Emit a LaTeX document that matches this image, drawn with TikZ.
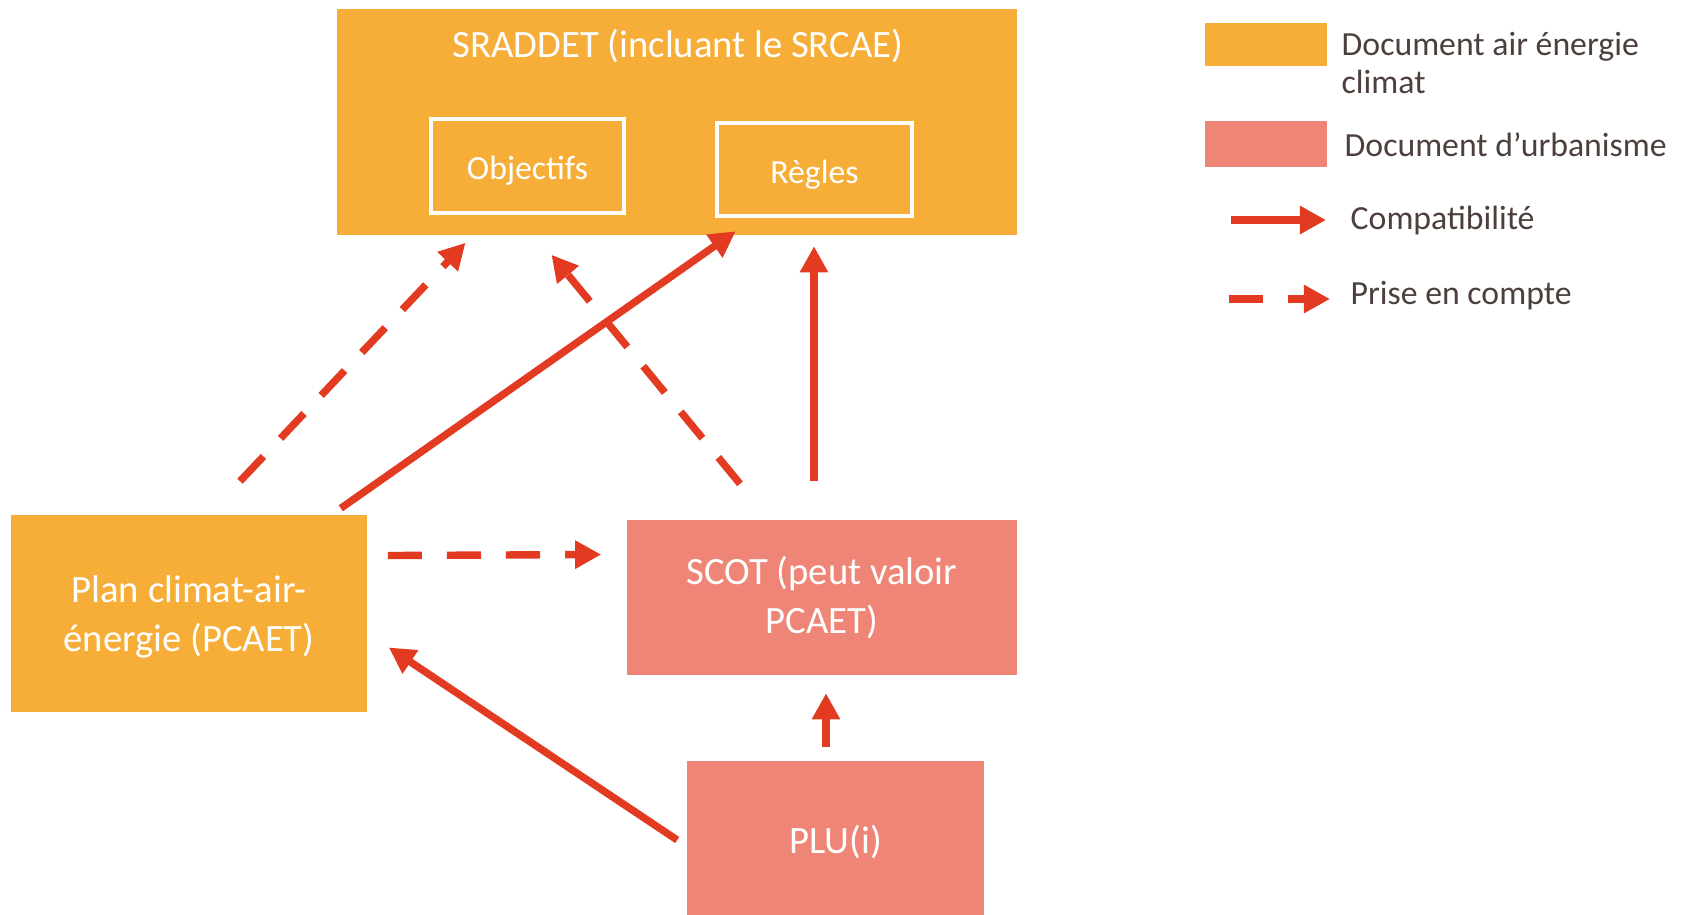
\documentclass[tikz,border=0pt]{standalone}
\usepackage{fontspec}
\setmainfont{Carlito}
\usetikzlibrary{arrows.meta}

\definecolor{airorange}{HTML}{F6AE38}
\definecolor{urbapink}{HTML}{EE8576}
\definecolor{linkred}{HTML}{E33B22}
\definecolor{legtext}{HTML}{4D403C}

\begin{document}
\begin{tikzpicture}[x=0.01cm,y=-0.01cm,
  docbox/.style={rectangle,inner sep=0pt,text=white,align=center,font=\fontsize{11}{13.8}\selectfont},
  air/.style={docbox,fill=airorange},
  urba/.style={docbox,fill=urbapink},
  subbox/.style={rectangle,draw=white,line width=1pt,inner sep=0pt,text=white,text height=7.8pt,text depth=0pt,font=\fontsize{9.6}{11}\selectfont},
  comp/.style={draw=linkred,line width=2.1pt,-{Triangle[length=7.4pt,width=7.6pt]}},
  prise/.style={comp,dash pattern=on 9.7pt off 7.1pt},
  legend/.style={anchor=base west,inner sep=0pt,text=legtext,font=\fontsize{9.6}{10.8}\selectfont}]

\useasboundingbox (0,0) rectangle (1687,914);

% SRADDET with its two parts
\node[air,minimum width=6.80cm,minimum height=2.26cm] (sraddet) at (677,122) {};
\node[docbox] (titre) at (678,46) {SRADDET (incluant le SRCAE)};
\node[subbox,minimum width=1.93cm,minimum height=0.94cm] (obj) at (527.5,166) {Objectifs};
\node[subbox,minimum width=1.95cm,minimum height=0.93cm] (regles) at (814.5,169.5) {Règles};

% documents
\node[air,minimum width=3.56cm,minimum height=1.97cm,text depth=0pt] (plan) at (189,613.5) {Plan climat-air-\\énergie (PCAET)};
\node[urba,minimum width=3.90cm,minimum height=1.54cm] (scot) at (822,597.5) {SCOT (peut valoir\\PCAET)};
\node[urba,minimum width=2.97cm,minimum height=1.62cm] (plu) at (835.5,842) {PLU(i)};

% links
\draw[prise] ([shift={(51,-33)}]plan.north) -- ([shift={(-62,28)}]obj.south);
\draw[comp] ([shift={(-27,-6)}]plan.north east) -- ([shift={(20.5,13.5)}]regles.south west);
\draw[prise] ([shift={(-82,-36)}]scot.north) -- ([shift={(24,40)}]obj.south);
\draw[comp] ([shift={(-8,-39)}]scot.north) -- ([shift={(-0.5,28.5)}]regles.south);
\draw[prise] ([shift={(20,-58)}]plan.east) -- ([shift={(-25,-43)}]scot.west);
\draw[comp] ([shift={(-9,-2)}]plu.west) -- ([shift={(21,34)}]plan.east);
\draw[comp] ([shift={(-9.5,-13)}]plu.north) -- ([shift={(4,18)}]scot.south);

% legend
\node[fill=airorange,inner sep=0pt,minimum width=1.21cm,minimum height=0.43cm] (legair) at (1266,44.5) {};
\node[fill=urbapink,inner sep=0pt,minimum width=1.21cm,minimum height=0.45cm] (legurba) at (1266,144) {};
\node[legend,align=left,anchor=west] (legairtxt) at (1341,63) {Document air énergie\\climat};
\node[legend] (legurbatxt) at (1344,156) {Document d’urbanisme};
\node[legend] (legcomptxt) at (1350,229) {Compatibilité};
\node[legend] (legprisetxt) at (1350,304) {Prise en compte};
\coordinate (lc1) at (1231,220);
\coordinate (lc2) at (1326,220);
\coordinate (lp1) at (1229,299);
\coordinate (lp2) at (1330,299);
\draw[comp] (lc1) -- (lc2);
\draw[prise] (lp1) -- (lp2);

\end{tikzpicture}
\end{document}
